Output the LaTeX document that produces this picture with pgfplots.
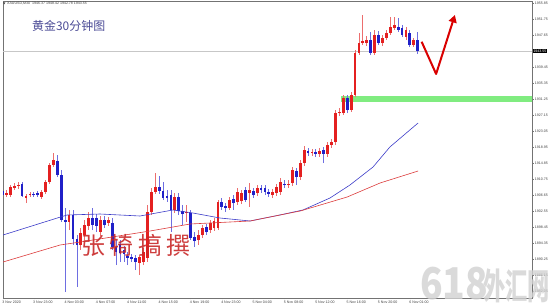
\documentclass[border=0pt]{standalone}
\usepackage{fontspec}
\setmainfont{Liberation Sans}
\newfontfamily\cjk{Noto Sans CJK SC}
\usepackage{pgfplots}
\usepackage{pgfplotstable}
\pgfplotsset{compat=1.18}
\usetikzlibrary{arrows.meta}

\definecolor{bull}{RGB}{228,32,32}
\definecolor{bear}{RGB}{32,32,200}
\definecolor{bullw}{RGB}{236,110,110}
\definecolor{bearw}{RGB}{110,110,225}
\definecolor{maBlue}{RGB}{60,60,200}
\definecolor{maRed}{RGB}{220,60,60}
\definecolor{zone}{RGB}{128,236,128}
\definecolor{titleC}{RGB}{75,75,150}
\definecolor{sig}{RGB}{200,40,40}

\pgfplotstableread{
k o h l c
1 1906.65 1907.93 1906.14 1907.16
2 1906.65 1909.21 1906.14 1908.70
3 1908.44 1909.73 1907.93 1908.96
4 1908.96 1909.98 1908.19 1909.21
6 1905.88 1906.91 1904.60 1906.39
7 1906.65 1907.42 1906.14 1906.91
10 1906.14 1907.93 1905.63 1907.42
11 1907.42 1910.49 1906.91 1909.98
12 1909.98 1914.85 1909.47 1914.34
13 1914.34 1917.41 1913.83 1915.62
17 1899.73 1902.81 1897.68 1901.53
20 1893.84 1898.19 1892.56 1896.91
21 1896.40 1900.24 1895.12 1898.96
22 1898.71 1902.29 1897.68 1900.76
25 1897.17 1901.27 1896.14 1900.24
27 1899.48 1901.01 1898.71 1900.24
35 1889.23 1891.28 1886.15 1890.76
36 1889.48 1893.07 1888.71 1892.04
37 1890.51 1904.09 1889.48 1902.29
38 1902.29 1908.44 1901.53 1907.42
39 1907.42 1912.29 1906.91 1908.70
44 1902.81 1907.16 1902.04 1906.14
47 1902.04 1904.09 1899.73 1902.29
50 1895.12 1897.68 1893.84 1896.40
51 1896.40 1898.96 1895.63 1898.19
53 1897.68 1900.24 1896.91 1899.48
54 1898.19 1900.76 1897.43 1899.99
55 1898.19 1905.37 1897.68 1904.86
58 1903.32 1906.14 1902.81 1905.37
60 1904.86 1908.44 1904.09 1907.42
61 1905.11 1907.93 1904.34 1907.16
63 1907.16 1909.73 1903.58 1907.93
65 1907.16 1909.21 1906.39 1908.44
69 1906.65 1908.19 1905.88 1907.42
70 1907.16 1909.47 1906.39 1908.70
71 1907.42 1911.01 1906.65 1909.98
73 1909.21 1910.49 1908.44 1909.47
74 1909.73 1913.83 1908.96 1913.06
76 1911.26 1915.62 1910.49 1914.85
77 1914.85 1919.21 1914.08 1918.18
79 1917.41 1918.44 1916.64 1917.67
81 1917.16 1918.69 1916.39 1917.93
83 1917.16 1920.23 1916.39 1919.46
84 1919.46 1921.00 1918.69 1920.23
85 1920.23 1928.43 1919.46 1927.66
86 1927.66 1928.94 1926.89 1927.92
87 1927.66 1932.28 1927.15 1931.51
89 1928.43 1933.04 1927.92 1932.28
90 1932.28 1943.81 1931.76 1943.04
91 1943.04 1948.16 1942.53 1945.60
92 1945.60 1952.78 1945.09 1946.11
93 1945.60 1947.39 1944.83 1946.37
95 1943.04 1948.93 1942.53 1947.65
97 1945.60 1947.65 1944.83 1946.88
98 1946.88 1948.93 1946.37 1948.16
99 1948.16 1952.26 1947.65 1949.70
100 1949.44 1952.26 1948.93 1950.21
103 1947.14 1949.70 1946.37 1948.93
105 1945.09 1946.88 1944.58 1946.37
}\tabUp

\pgfplotstableread{
k o h l c
0 1907.68 1908.44 1905.88 1906.65
5 1909.47 1909.98 1906.14 1906.39
8 1906.91 1907.42 1906.14 1906.65
9 1907.16 1907.68 1906.14 1906.65
14 1915.36 1916.90 1911.26 1911.78
15 1911.78 1913.06 1899.73 1900.24
16 1900.24 1903.32 1881.79 1899.73
18 1901.53 1902.81 1893.84 1895.38
19 1895.38 1896.40 1883.08 1893.84
23 1900.76 1903.32 1897.68 1898.96
24 1900.76 1901.78 1897.17 1898.71
26 1900.24 1901.27 1898.19 1898.96
28 1899.48 1900.76 1892.56 1893.33
29 1893.33 1895.12 1888.71 1892.04
30 1894.09 1895.12 1889.48 1891.79
31 1892.56 1893.58 1889.48 1891.53
32 1891.02 1892.04 1888.71 1890.51
33 1890.76 1891.53 1889.48 1890.25
34 1890.51 1891.28 1887.43 1889.48
40 1908.70 1911.52 1906.91 1907.68
41 1907.68 1909.98 1905.37 1905.88
42 1906.39 1907.93 1904.86 1905.88
43 1906.65 1907.93 1897.17 1902.81
45 1906.14 1907.16 1901.53 1902.55
46 1902.55 1904.09 1898.96 1901.78
48 1902.04 1902.81 1895.12 1895.63
49 1895.89 1897.17 1893.33 1894.86
52 1898.45 1899.22 1896.40 1897.17
56 1904.86 1905.88 1902.81 1903.58
57 1903.83 1904.60 1902.29 1903.32
59 1905.63 1906.65 1902.81 1904.60
62 1907.93 1908.70 1904.86 1905.37
64 1907.68 1908.44 1905.88 1906.65
66 1908.44 1909.21 1907.16 1907.93
67 1908.44 1909.21 1906.65 1907.42
68 1907.42 1908.19 1906.14 1906.91
72 1909.47 1910.49 1908.44 1909.21
75 1912.80 1913.57 1909.21 1911.26
78 1917.93 1918.69 1916.64 1917.41
80 1917.67 1918.44 1916.39 1917.16
82 1918.18 1918.95 1914.85 1917.16
88 1931.51 1932.28 1927.66 1928.43
94 1946.37 1948.42 1942.53 1943.04
96 1947.65 1948.68 1945.09 1945.60
101 1949.70 1952.01 1948.42 1948.93
102 1949.44 1950.21 1947.14 1947.65
104 1948.16 1948.93 1944.58 1945.09
106 1946.37 1948.42 1942.78 1943.55
}\tabDn

\begin{document}
\begin{tikzpicture}
\path (0bp,0bp) rectangle (550bp,306bp);
\begin{pgfinterruptboundingbox}
\begin{axis}[
  at={(3bp,8bp)}, anchor=south west,
  scale only axis, width=529bp, height=297bp,
  xmin=0.128, xmax=135.18, ymin=1880.26, ymax=1956.36,
  axis line style={black!55, line width=0.6bp},
  tick style={black!55, line width=0.4bp},
  tick align=outside, major tick length=1.5bp,
  xtick pos=bottom, ytick pos=right,
  xtick={0.13,8,16,24,32,40,48,56,64,72,80,88,96,104},
  xticklabels={3 Nov 2020,3 Nov 23:00,4 Nov 03:00,4 Nov 07:00,4 Nov 11:00,4 Nov 15:00,4 Nov 19:00,4 Nov 23:00,5 Nov 04:00,5 Nov 08:00,5 Nov 12:00,5 Nov 16:00,5 Nov 20:00,6 Nov 01:00},
  xticklabel style={font=\fontsize{3.6}{4}\selectfont, text=black!75, anchor=north west, inner sep=0pt, xshift=-0.8bp, yshift=-1.2bp},
  ytick={1955.85,1951.75,1947.65,1939.45,1935.35,1931.25,1927.15,1923.05,1918.95,1914.85,1910.75,1906.65,1902.55,1898.45,1894.35,1890.25,1886.15,1882.05},
  yticklabel style={font=\fontsize{3.6}{4}\selectfont, text=black!75, anchor=west, inner sep=0pt, xshift=1.2bp},
  /pgf/number format/assume math mode=true,
  /pgf/number format/.cd, fixed, fixed zerofill, precision=2, 1000 sep={},
]
% support zone
\addplot[fill=zone, draw=none, mark=none] coordinates {(86.4,1930.48) (135.5,1930.48) (135.5,1932.02) (86.4,1932.02)} -- cycle;
% current price line
\addplot[black!22, line width=0.6bp, mark=none] coordinates {(0.128,1943.55) (135.18,1943.55)};
% wicks
\addplot[bullw, mark=none, quiver={u=0, v=\thisrow{h}-\thisrow{l}}, quiver/every arrow/.style={line width=0.8bp}] table[x=k, y=l] {\tabUp};
\addplot[bearw, mark=none, quiver={u=0, v=\thisrow{h}-\thisrow{l}}, quiver/every arrow/.style={line width=0.8bp}] table[x=k, y=l] {\tabDn};
% bodies
\addplot[bull, mark=none, quiver={u=0, v=\thisrow{c}-\thisrow{o}}, quiver/every arrow/.style={line width=2.8bp}] table[x=k, y=o] {\tabUp};
\addplot[bear, mark=none, quiver={u=0, v=\thisrow{o}-\thisrow{c}}, quiver/every arrow/.style={line width=2.8bp}] table[x=k, y=c] {\tabDn};
% moving averages
\addplot[maBlue, line width=0.6bp, mark=none] coordinates {
(0.13,1896.40) (14.0,1900.76) (16.5,1901.53) (24.9,1901.78) (35.1,1901.27) (43.5,1902.81) (48.6,1902.04) (55.5,1900.76) (63.2,1899.99) (70.8,1901.53) (76.7,1902.81) (83.6,1905.88) (88.7,1909.21) (94.6,1913.83) (98.9,1918.95) (104.0,1923.31) (106.1,1925.10)};
\addplot[maRed, line width=0.6bp, mark=none] coordinates {
(0.13,1889.48) (14.7,1893.84) (19.8,1894.60) (37.7,1897.43) (47.9,1899.22) (63.2,1899.99) (76.0,1902.55) (88.0,1906.14) (96.4,1909.73) (106.1,1912.80)};
% arrow
\draw[red!85!black, line width=2bp, line join=round, -{Triangle[length=7.5bp,width=8bp]}]
  (axis cs:107.0,1945.93) -- (axis cs:110.7,1937.66) -- (axis cs:115.5,1952.78);
\coordinate (cur) at (axis cs:135.18,1943.55);
\end{axis}
% current price box
\node[fill=black, text=white, font=\fontsize{3.6}{4}\selectfont, inner xsep=0.8bp, inner ysep=0.8bp, anchor=west] at ([xshift=0.5bp]cur) {1943.55};
% header
\fill[black!70] (3bp,303.5bp) -- (5.4bp,303.5bp) -- (4.2bp,301.6bp) -- cycle;
\node[anchor=west, inner sep=0pt, font=\fontsize{3.6}{4}\selectfont, text=black!75] at (7bp,302.3bp) {XAUUSD,M30\ \ 1946.37 1948.42 1942.78 1943.55};
% title
\node[anchor=base west, inner sep=0pt, text=titleC, font=\cjk\fontsize{12}{12}\selectfont] at (32bp,275.5bp) {黄金30分钟图};
% signature
\node[anchor=base west, inner sep=0pt, text=sig, font=\cjk\fontsize{24}{24}\selectfont, opacity=0.9] at (81bp,51.5bp) {张\hspace{4.5bp}犄\hspace{4.5bp}搞\hspace{4.5bp}撰};
% site watermark
\node[anchor=base west, inner sep=0pt, text=black!18, font=\cjk\bfseries\fontsize{44}{44}\selectfont, opacity=0.8, xscale=0.85] at (420bp,7bp) {618};
\node[anchor=base west, inner sep=0pt, text=black!18, font=\cjk\bfseries\fontsize{36}{36}\selectfont, opacity=0.8, xscale=0.62] at (483bp,7bp) {外汇网};
\end{pgfinterruptboundingbox}
\end{tikzpicture}
\end{document}
